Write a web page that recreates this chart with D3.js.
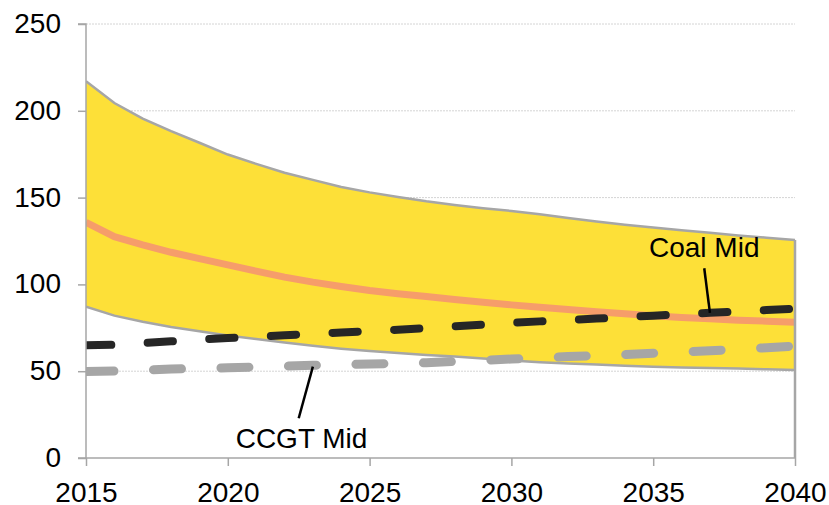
<!DOCTYPE html>
<html>
<head>
<meta charset="utf-8">
<script src="https://cdn.jsdelivr.net/npm/d3@7"></script>
<style>
  html, body { margin: 0; padding: 0; background: #fff; }
  svg { display: block; }
  text { font-family: "Liberation Sans", Arial, sans-serif; fill: #000; }
</style>
</head>
<body>
<svg id="chart" width="829" height="505"></svg>
<script>
// ---- data ----
const years = [2015,2016,2017,2018,2019,2020,2021,2022,2023,2024,2025,2026,2027,2028,2029,2030,2031,2032,2033,2034,2035,2036,2037,2038,2039,2040];
const bandHigh = [217,204.5,195.5,188.3,181.6,174.8,169.4,164.3,160.2,156.1,153.0,150.4,147.9,145.8,143.9,142.3,140.4,138.3,136.2,134.4,132.8,131.2,129.7,128.2,126.9,125.6];
const bandLow  = [87.2,82,78.5,75.5,73,70.6,68.5,66.5,64.6,63,61.6,60.5,59.4,58.4,57.3,56.2,55.2,54.5,53.8,53.1,52.6,52.2,51.9,51.5,51.1,50.7];
const bandCentral = [135.8,127.5,122.8,118.5,114.8,111.2,107.6,104.2,101.3,98.8,96.5,94.6,93.0,91.3,89.7,88.2,86.8,85.5,84.3,83.1,82.0,81.0,80.2,79.4,78.8,78.2];
const coalMid = [65,65.2,66.2,67.2,68.2,69.1,69.9,70.7,71.5,72.3,73.1,73.9,74.8,75.8,76.8,77.9,78.7,79.5,80.3,81.1,82.0,82.8,83.6,84.4,85.2,86.0];
const ccgtMid = [49.8,50.1,50.6,51.2,51.6,52.0,52.4,52.9,53.4,53.8,54.2,54.5,54.9,55.6,56.3,57.0,57.7,58.4,59.0,59.6,60.3,61.0,61.8,62.6,63.5,64.5];
const yTicks = [0,50,100,150,200,250];
const xTicks = [2015,2020,2025,2030,2035,2040];
const annotations = [
  { label: "Coal Mid",  textYear: 2036.8, textValue: 115.8, lineFrom: [2036.8, 109.3], lineTo: [2037.0, 83.6] },
  { label: "CCGT Mid",  textYear: 2022.6, textValue: 5.8,   lineFrom: [2022.5, 22.9],  lineTo: [2023.0, 52.6] }
];

// ---- layout ----
const svg = d3.select("#chart");
const mLeft = 86, mRight = 795, mTop = 24, mBottom = 458;
const x = d3.scaleLinear().domain([2015, 2040]).range([mLeft, mRight]);
const y = d3.scaleLinear().domain([0, 250]).range([mBottom, mTop]);
const fontSize = 28;

svg.append("defs").append("clipPath").attr("id", "plotClip")
  .append("rect").attr("x", mLeft).attr("y", 0).attr("width", mRight - mLeft).attr("height", mBottom);

// gridlines
svg.append("g").selectAll("line").data(yTicks.filter(d => d > 0)).join("line")
  .attr("x1", mLeft).attr("x2", mRight)
  .attr("y1", d => y(d)).attr("y2", d => y(d))
  .attr("stroke", "#D4D4D4").attr("stroke-width", 1).attr("stroke-dasharray", "2,1");

const rows = years.map((yr, i) => ({ yr, hi: bandHigh[i], lo: bandLow[i], c: bandCentral[i], coal: coalMid[i], ccgt: ccgtMid[i] }));

const plot = svg.append("g").attr("clip-path", "url(#plotClip)");

// band fill
plot.append("path").datum(rows)
  .attr("d", d3.area().x(d => x(d.yr)).y0(d => y(d.lo)).y1(d => y(d.hi)))
  .attr("fill", "#FDE038");

// band borders
const borderColor = "#A6A6A6";
plot.append("path").datum(rows)
  .attr("d", d3.line().x(d => x(d.yr)).y(d => y(d.hi)))
  .attr("fill", "none").attr("stroke", borderColor).attr("stroke-width", 2.5);
plot.append("path").datum(rows)
  .attr("d", d3.line().x(d => x(d.yr)).y(d => y(d.lo)))
  .attr("fill", "none").attr("stroke", borderColor).attr("stroke-width", 2.5);
const last = rows[rows.length - 1];
svg.append("line")
  .attr("x1", x(last.yr)).attr("x2", x(last.yr))
  .attr("y1", y(last.hi)).attr("y2", y(0))
  .attr("stroke", borderColor).attr("stroke-width", 2.5);

// central line
plot.append("path").datum(rows)
  .attr("d", d3.line().x(d => x(d.yr)).y(d => y(d.c)))
  .attr("fill", "none").attr("stroke", "#F69D6A").attr("stroke-width", 7);

// CCGT mid (gray dashed)
plot.append("path").datum(rows)
  .attr("d", d3.line().x(d => x(d.yr)).y(d => y(d.ccgt)))
  .attr("fill", "none").attr("stroke", "#A6A6A6").attr("stroke-width", 9)
  .attr("stroke-linecap", "round").attr("stroke-dasharray", "28,39.5");

// Coal mid (black dashed)
plot.append("path").datum(rows)
  .attr("d", d3.line().x(d => x(d.yr)).y(d => y(d.coal)))
  .attr("fill", "none").attr("stroke", "#262626").attr("stroke-width", 8)
  .attr("stroke-linecap", "round").attr("stroke-dasharray", "25.3,36.4");

// axes
const axisColor = "#A6A6A6";
const yAxis = svg.append("g").attr("transform", `translate(${mLeft},0)`)
  .call(d3.axisLeft(y).tickValues(yTicks).tickSize(8).tickPadding(17).tickFormat(d3.format("d")));
const xAxis = svg.append("g").attr("transform", `translate(0,${mBottom})`)
  .call(d3.axisBottom(x).tickValues(xTicks).tickSize(8).tickPadding(16).tickFormat(d3.format("d")));
[yAxis, xAxis].forEach(g => {
  g.select(".domain").attr("stroke", axisColor).attr("stroke-width", 1.5);
  g.selectAll(".tick line").attr("stroke", axisColor).attr("stroke-width", 1.5);
  g.selectAll(".tick text").attr("font-size", fontSize)
    .attr("font-family", '"Liberation Sans", Arial, sans-serif').attr("fill", "#000");
});
yAxis.select(".domain").attr("d", `M-8,${mTop}H0V${mBottom}H-8`);
yAxis.selectAll(".tick text").attr("dy", "0.3em");
xAxis.select(".domain").attr("d", `M${mLeft},0H${mRight}`);
xAxis.selectAll(".tick text").attr("dy", "0.71em");

// annotations
annotations.forEach(a => {
  svg.append("line")
    .attr("x1", x(a.lineFrom[0])).attr("y1", y(a.lineFrom[1]))
    .attr("x2", x(a.lineTo[0])).attr("y2", y(a.lineTo[1]))
    .attr("stroke", "#000").attr("stroke-width", 2.5);
  svg.append("text")
    .attr("x", x(a.textYear)).attr("y", y(a.textValue))
    .attr("text-anchor", "middle").attr("font-size", fontSize)
    .text(a.label);
});
</script>
</body>
</html>
